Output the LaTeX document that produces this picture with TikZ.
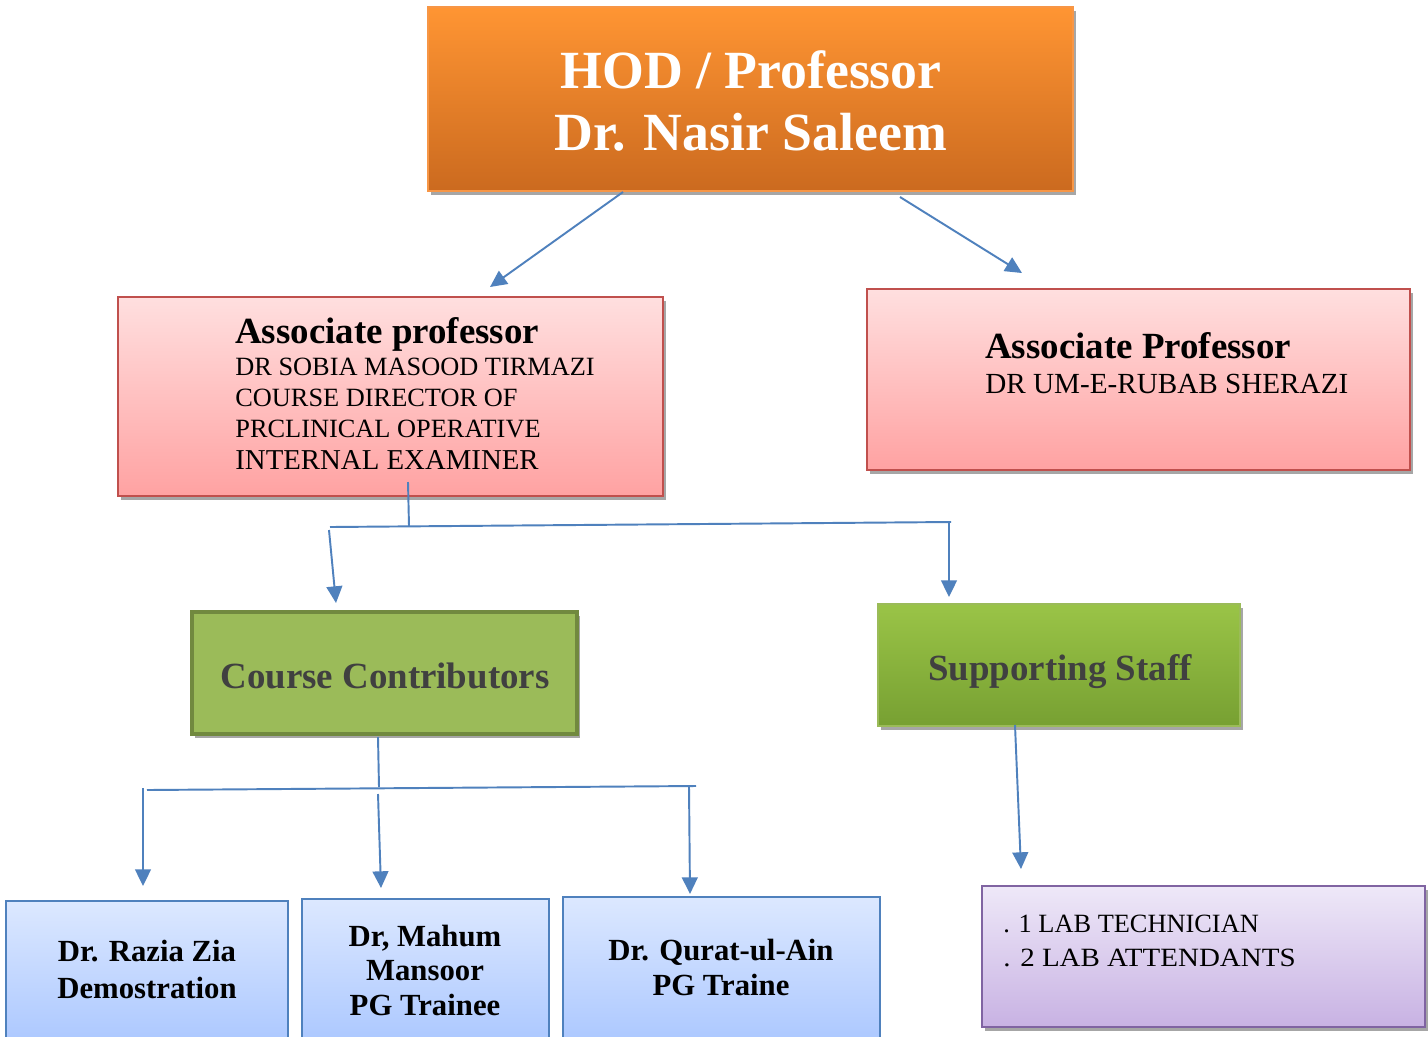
\documentclass[tikz,border=0pt]{standalone}
\usepackage{fontspec}
\usepackage{graphicx}
\setmainfont{Liberation Serif}
\usetikzlibrary{arrows.meta,shadows,fit}
\definecolor{orgT}{HTML}{FF9533}
\definecolor{orgB}{HTML}{CB6A1F}
\definecolor{orgD}{HTML}{F79646}
\definecolor{pinkT}{HTML}{FFDFDF}
\definecolor{pinkB}{HTML}{FFA2A2}
\definecolor{pinkD}{HTML}{C0504D}
\definecolor{grnF}{HTML}{9BBB59}
\definecolor{grnD}{HTML}{71893F}
\definecolor{grnT}{HTML}{9AC447}
\definecolor{grnB}{HTML}{77A032}
\definecolor{bluT}{HTML}{DCE8FF}
\definecolor{bluB}{HTML}{A6C4FF}
\definecolor{bluD}{HTML}{4F81BD}
\definecolor{purT}{HTML}{EEE8F8}
\definecolor{purB}{HTML}{C8B2E3}
\definecolor{purD}{HTML}{8064A2}
\definecolor{lineC}{HTML}{4F81BD}
\definecolor{darkT}{HTML}{404040}
\begin{document}
\begin{tikzpicture}[x=0.02cm,y=-0.02cm,
  box/.style={inner sep=0pt, outer sep=0pt},
  shad/.style={drop shadow={shadow xshift=1.5pt, shadow yshift=-2pt, opacity=0.35, fill=black}},
  conn/.style={draw=lineC, line width=1.1pt},
  arr/.style={conn, -{Triangle[length=9.5pt,width=9pt]}},
  big/.style={font=\fontsize{30.6}{30}\selectfont\bfseries},
  head/.style={font=\fontsize{21}{21}\selectfont\bfseries},
  body/.style={font=\fontsize{15}{17.7}\selectfont, align=left},
  small/.style={font=\fontsize{17.5}{19.5}\selectfont\bfseries, align=center}]
\clip (0,0) rectangle (1428,1036);
\fill[white] (0,0) rectangle (1428,1036);

% boxes
\node[box, shad, fit={(428,7) (1073,191)}, top color=orgT, bottom color=orgB, draw=orgD, line width=1.3pt] (hod) {};
\node[box, shad, fit={(118,297) (663,496)}, top color=pinkT, bottom color=pinkB, draw=pinkD, line width=1.2pt] (ap1) {};
\node[box, shad, fit={(867,289) (1410,470)}, top color=pinkT, bottom color=pinkB, draw=pinkD, line width=1.2pt] (ap2) {};
\node[box, shad, fit={(192,612) (577,734)}, fill=grnF, draw=grnD, line width=2.4pt] (cc) {};
\node[box, shad, fit={(878,604) (1240,726)}, top color=grnT, bottom color=grnB, draw=grnF, line width=0.8pt] (ss) {};
\node[box, fit={(6,901) (288,1060)}, top color=bluT, bottom color=bluB, draw=bluD, line width=1.1pt] (b1) {};
\node[box, fit={(302,899) (549,1060)}, top color=bluT, bottom color=bluB, draw=bluD, line width=1.1pt] (b2) {};
\node[box, fit={(563,897) (880,1060)}, top color=bluT, bottom color=bluB, draw=bluD, line width=1.1pt] (b3) {};
\node[box, shad, fit={(982,886) (1425,1027)}, top color=purT, bottom color=purB, draw=purD, line width=1.2pt] (lab) {};

% texts (anchor=base is the baseline of the last line)
\node[big, text=white, anchor=base] (hodA) at (751,88) {HOD / Professor};
\node[big, text=white, anchor=base] (hodB) at (751,150) {Dr. Nasir Saleem};
\node[head, anchor=base west, inner sep=0pt] (ap1h) at (235,343) {Associate professor};
\node[body, anchor=base west, inner sep=0pt] (ap1b) at (235,469) {DR SOBIA MASOOD TIRMAZI\\COURSE DIRECTOR OF\\PRCLINICAL OPERATIVE\\{\fontsize{16.4}{17.7}\selectfont INTERNAL EXAMINER}};
\node[head, anchor=base west, inner sep=0pt] (ap2h) at (985,358) {Associate Professor};
\node[body, anchor=base west, inner sep=0pt, font=\fontsize{16.6}{19}\selectfont] (ap2b) at (985,393) {DR UM-E-RUBAB SHERAZI};
\node[head, text=darkT, anchor=base] (cct) at (385,688) {Course Contributors};
\node[head, text=darkT, anchor=base] (sst) at (1060,680) {Supporting Staff};
\node[small, anchor=base] (b1t) at (147,998) {Dr. Razia Zia\\[1pt]Demostration};
\node[small, anchor=base] (b2t) at (425,1015) {Dr, Mahum\\Mansoor\\PG Trainee};
\node[small, anchor=base] (b3t) at (721,995) {Dr. Qurat-ul-Ain\\[0.3pt]PG Traine};
\node[body, anchor=base west, inner sep=0pt, font=\fontsize{15}{19.3}\selectfont] (labt) at (1003,966) {. 1 LAB TECHNICIAN\\\scalebox{1.1}[1]{. 2 LAB ATTENDANTS}};

% connector coordinates
\coordinate (h1) at (623,192);
\coordinate (t1) at (490,287);
\coordinate (h2) at (900,197);
\coordinate (t2) at (1022,273);
\coordinate (p1) at (408,482);
\coordinate (p1b) at (409,526);
\coordinate (busL) at (330,527);
\coordinate (busR) at (951,522);
\coordinate (dL) at (329,530);
\coordinate (tL) at (336,603);
\coordinate (dR) at (949,523);
\coordinate (tR) at (949,597);
\coordinate (c1) at (378,737);
\coordinate (c1b) at (379,787);
\coordinate (bus2L) at (147,790);
\coordinate (bus2R) at (696,786);
\coordinate (e1) at (143,788);
\coordinate (f1) at (143,886);
\coordinate (e2) at (378,794);
\coordinate (f2) at (381,888);
\coordinate (e3) at (689,786);
\coordinate (f3) at (690,894);
\coordinate (s1) at (1015,725);
\coordinate (g1) at (1021,869);

\draw[arr] (h1) -- (t1);
\draw[arr] (h2) -- (t2);
\draw[conn] (p1) -- (p1b);
\draw[conn] (busL) -- (busR);
\draw[arr] (dL) -- (tL);
\draw[arr] (dR) -- (tR);
\draw[conn] (c1) -- (c1b);
\draw[conn] (bus2L) -- (bus2R);
\draw[arr] (e1) -- (f1);
\draw[arr] (e2) -- (f2);
\draw[arr] (e3) -- (f3);
\draw[arr] (s1) -- (g1);
\end{tikzpicture}
\end{document}
